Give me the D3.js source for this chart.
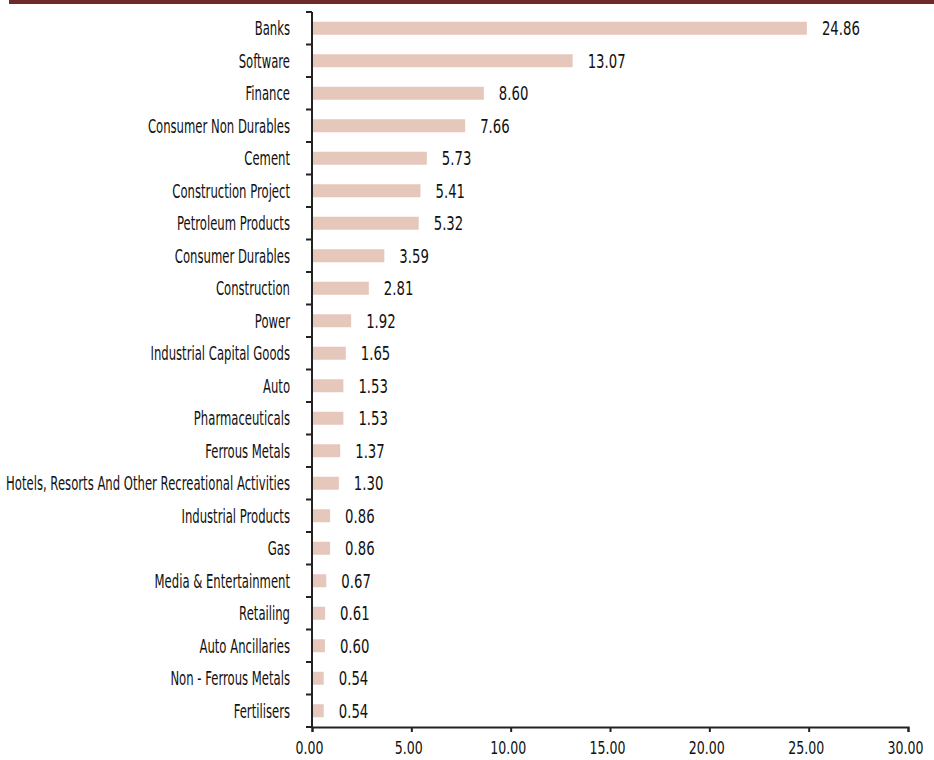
<!DOCTYPE html>
<html>
<head>
<meta charset="utf-8">
<script src="https://cdn.jsdelivr.net/npm/d3@7"></script>
<style>
    body { margin: 0; background: #fff; }
    svg text { font-family: "DejaVu Sans", sans-serif; fill: #111; }
</style>
</head>
<body>
<div id="drawing_region"></div>
<script>
// sector allocation (% of net assets)
const sectors = [
    "Banks", "Software", "Finance", "Consumer Non Durables", "Cement",
    "Construction Project", "Petroleum Products", "Consumer Durables", "Construction", "Power",
    "Industrial Capital Goods", "Auto", "Pharmaceuticals", "Ferrous Metals",
    "Hotels, Resorts And Other Recreational Activities", "Industrial Products", "Gas",
    "Media & Entertainment", "Retailing", "Auto Ancillaries", "Non - Ferrous Metals", "Fertilisers"
];
const weights = [
    24.86, 13.07, 8.60, 7.66, 5.73,
    5.41, 5.32, 3.59, 2.81, 1.92,
    1.65, 1.53, 1.53, 1.37,
    1.30, 0.86, 0.86,
    0.67, 0.61, 0.60, 0.54, 0.54
];
const xTicks = [0, 5, 10, 15, 20, 25, 30];

const config = {
    parent: '#drawing_region',
    width: 934,
    height: 760,
    margin: { top: 12, right: 26, bottom: 33, left: 312 },
};

const data = sectors.map((s, i) => ({ label: s, value: weights[i] }));

const svg = d3.select(config.parent)
    .append('svg')
    .attr('width', config.width)
    .attr('height', config.height);

// no condensed font installed -> squeeze DejaVu horizontally to the reference widths
function squeeze(sample, size, target) {
    const t = svg.append('text').attr('font-size', size).text(sample);
    const w = t.node().getComputedTextLength();
    t.remove();
    return target / w;
}
const catScale = squeeze("Hotels, Resorts And Other Recreational Activities", 20, 284);
const valScale = squeeze("24.86", 19, 38);
const tickScale = squeeze("0.00", 17, 28);

// header strip
svg.append('rect')
    .attr('x', 9).attr('y', 0)
    .attr('width', config.width - 9).attr('height', 4)
    .attr('fill', '#6e2b2b');

const inner_height = config.height - config.margin.top - config.margin.bottom;

const chart = svg.append('g')
    .attr('transform', `translate(${config.margin.left},${config.margin.top})`);

const xscale = d3.scaleLinear()
    .domain([0, 30])
    .range([0, 596]);

const yscale = d3.scaleBand()
    .domain(sectors)
    .range([0, inner_height])
    .paddingInner(0.6)
    .paddingOuter(0.3);

// bars
chart.selectAll('rect.bar')
    .data(data)
    .enter()
    .append('rect')
    .attr('class', 'bar')
    .attr('x', 1)
    .attr('y', d => yscale(d.label))
    .attr('width', d => xscale(d.value))
    .attr('height', yscale.bandwidth())
    .attr('fill', '#e6c7bc');

// value labels
chart.selectAll('g.val')
    .data(data)
    .enter()
    .append('g')
    .attr('class', 'val')
    .attr('transform', d => `translate(${xscale(d.value) + 16},${yscale(d.label) + yscale.bandwidth() / 2})`)
    .append('text')
    .attr('transform', `scale(${valScale},1)`)
    .attr('dy', '0.36em')
    .attr('font-size', 19)
    .text(d => d.value.toFixed(2));

// y axis: line + separator ticks between categories
const bounds = d3.range(sectors.length + 1).map(i => i * inner_height / sectors.length);
chart.append('line')
    .attr('x1', 0).attr('x2', 0)
    .attr('y1', 0).attr('y2', inner_height)
    .attr('stroke', '#222').attr('stroke-width', 2);
chart.selectAll('line.sep')
    .data(bounds)
    .enter()
    .append('line')
    .attr('class', 'sep')
    .attr('x1', -6).attr('x2', 0)
    .attr('y1', d => d).attr('y2', d => d)
    .attr('stroke', '#222').attr('stroke-width', 2);

chart.selectAll('g.cat')
    .data(sectors)
    .enter()
    .append('g')
    .attr('class', 'cat')
    .attr('transform', d => `translate(-22,${yscale(d) + yscale.bandwidth() / 2})`)
    .append('text')
    .attr('transform', `scale(${catScale},1)`)
    .attr('dy', '0.36em')
    .attr('text-anchor', 'end')
    .attr('font-size', 20)
    .text(d => d);

// x axis
const xAxis = chart.append('g')
    .attr('transform', `translate(0,${inner_height})`)
    .call(d3.axisBottom(xscale).tickValues(xTicks).tickFormat(d3.format('.2f')).tickSize(5).tickPadding(0));
xAxis.select('.domain').attr('stroke', '#222').attr('stroke-width', 2);
xAxis.selectAll('.tick line').attr('stroke', '#222').attr('stroke-width', 2);
xAxis.selectAll('.tick text')
    .attr('font-size', 17)
    .attr('font-family', null)
    .attr('fill', '#111')
    .attr('y', null)
    .attr('dy', null)
    .attr('transform', `translate(-3,27) scale(${tickScale},1)`);
</script>
</body>
</html>
